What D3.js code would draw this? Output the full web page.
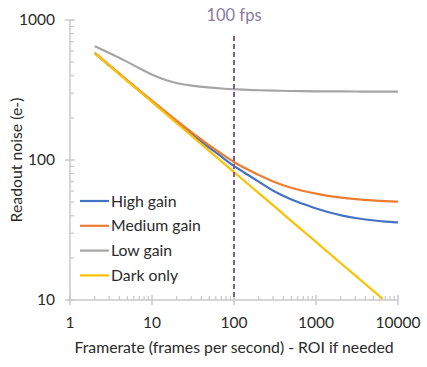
<!DOCTYPE html>
<html lang="en">
<head>
<meta charset="UTF-8">
<title>Readout noise vs framerate</title>
<script src="https://d3js.org/d3.v7.min.js"></script>
<style>
    body { margin: 0; background: #fff; }
    svg text { font-family: Lato, 'Open Sans', sans-serif; fill: #2a2a2a; }
</style>
</head>
<body>
<div id="chart"></div>
<script>
    // framerate sample points (fps)
    const framerates = [2, 3, 5, 7, 10, 15, 20, 30, 50, 70, 100, 150, 200, 300, 500, 700, 1000, 1500, 2000, 3000, 5000, 7000, 10000];

    // readout noise (e-)
    const highGain   = [581, 474, 369, 312, 262, 216, 187, 155, 122, 106, 90, 78, 70, 60, 52, 48.5, 45, 42, 40.3, 38.5, 37, 36.3, 35.8];
    const mediumGain = [582, 476, 370, 314, 265, 219, 191, 158, 127, 111, 96, 85, 78, 70, 63, 60, 57.5, 55, 53.8, 52.5, 51.3, 50.8, 50.4];
    const lowGain    = [650, 582, 503, 452, 405, 370, 353, 340, 329, 324, 320, 317, 315, 313, 311, 310, 309.5, 309, 308.7, 308.4, 308.2, 308.1, 308];
    const darkFps    = [2, 3, 5, 7, 10, 15, 20, 30, 50, 70, 100, 150, 200, 300, 500, 700, 1000, 1500, 2000, 3000, 5000, 6500];
    const darkOnly   = [580, 474, 367, 310, 260, 212, 183, 150, 116, 98, 82, 67, 58, 47.5, 36.7, 31, 26, 21.2, 18.3, 15, 11.6, 10.2];

    const series = [
        { name: "High gain",   color: "#4472C4", x: framerates, y: highGain },
        { name: "Medium gain", color: "#ED7D31", x: framerates, y: mediumGain },
        { name: "Low gain",    color: "#A5A5A5", x: framerates, y: lowGain },
        { name: "Dark only",   color: "#FFC000", x: darkFps,    y: darkOnly }
    ];

    const xTicks = [1, 10, 100, 1000, 10000];
    const yTicks = [10, 100, 1000];
    const markerFps = 100;

    const width = 427, height = 367;
    const margin = { left: 70, right: 29, top: 20, bottom: 67 };

    const svg = d3.select("#chart").append("svg")
        .attr("width", width).attr("height", height);

    const x = d3.scaleLog().domain([1, 10000]).range([margin.left, width - margin.right]);
    const y = d3.scaleLog().domain([10, 1000]).range([height - margin.bottom, margin.top]);

    const axisColor = "#c8c8c8";

    // minor ticks (drawn inward)
    const minorX = [];
    for (let d = 1; d < 10000; d *= 10) for (let k = 2; k <= 9; k++) minorX.push(d * k);
    const minorY = [];
    for (let d = 10; d < 1000; d *= 10) for (let k = 2; k <= 9; k++) minorY.push(d * k);

    const gx = svg.append("g").attr("transform", `translate(0,${y(10)})`);
    gx.append("line").attr("x1", x(1)).attr("x2", x(10000)).attr("stroke", axisColor).attr("stroke-width", 1.5);
    gx.selectAll(".mn").data(minorX).join("line")
        .attr("x1", d => x(d)).attr("x2", d => x(d)).attr("y1", 0).attr("y2", -4)
        .attr("stroke", axisColor).attr("stroke-width", 1.2);
    gx.selectAll(".mj").data(xTicks).join("line")
        .attr("x1", d => x(d)).attr("x2", d => x(d)).attr("y1", -5).attr("y2", 5)
        .attr("stroke", axisColor).attr("stroke-width", 1.5);
    gx.selectAll("text").data(xTicks).join("text")
        .attr("x", d => x(d)).attr("y", 28).attr("text-anchor", "middle")
        .style("font-size", "15.5px").text(d => d);

    const gy = svg.append("g").attr("transform", `translate(${x(1)},0)`);
    gy.append("line").attr("y1", y(10)).attr("y2", y(1000)).attr("stroke", axisColor).attr("stroke-width", 1.5);
    gy.selectAll(".mn").data(minorY).join("line")
        .attr("y1", d => y(d)).attr("y2", d => y(d)).attr("x1", 0).attr("x2", 4)
        .attr("stroke", axisColor).attr("stroke-width", 1.2);
    gy.selectAll(".mj").data(yTicks).join("line")
        .attr("y1", d => y(d)).attr("y2", d => y(d)).attr("x1", -5).attr("x2", 5)
        .attr("stroke", axisColor).attr("stroke-width", 1.5);
    gy.selectAll("text").data(yTicks).join("text")
        .attr("x", -15).attr("y", d => y(d)).attr("dy", "0.35em").attr("text-anchor", "end")
        .style("font-size", "15.5px").text(d => d);

    // axis titles
    svg.append("text")
        .attr("x", (x(1) + x(10000)) / 2).attr("y", 353).attr("text-anchor", "middle")
        .style("font-size", "15.8px").text("Framerate (frames per second) - ROI if needed");
    svg.append("text")
        .attr("transform", `translate(22,${(y(10) + y(1000)) / 2}) rotate(-90)`)
        .attr("text-anchor", "middle").style("font-size", "15.8px").text("Readout noise (e-)");

    // lines
    const line = d3.line().x(d => x(d[0])).y(d => y(d[1])).curve(d3.curveBasis);
    svg.selectAll(".series").data(series).join("path")
        .attr("d", s => line(s.x.map((v, i) => [v, s.y[i]])))
        .attr("fill", "none").attr("stroke", s => s.color).attr("stroke-width", 2.2);

    // 100 fps marker
    svg.append("line")
        .attr("x1", x(markerFps)).attr("x2", x(markerFps)).attr("y1", 36).attr("y2", y(10))
        .attr("stroke", "#7B5A95").attr("stroke-width", 2).attr("stroke-dasharray", "5,3");
    svg.append("text")
        .attr("x", x(markerFps)).attr("y", 21).attr("text-anchor", "middle")
        .style("font-size", "16.5px").style("fill", "#8A7A9E").text("100 fps");

    // legend
    const legend = svg.append("g").attr("transform", "translate(80,201)");
    const row = legend.selectAll("g").data(series).join("g")
        .attr("transform", (d, i) => `translate(0,${i * 24.8})`);
    row.append("line").attr("x1", 0).attr("x2", 29)
        .attr("stroke", d => d.color).attr("stroke-width", 2.2);
    row.append("text").attr("x", 31).attr("dy", "0.35em")
        .style("font-size", "15.8px").text(d => d.name);
</script>
</body>
</html>
